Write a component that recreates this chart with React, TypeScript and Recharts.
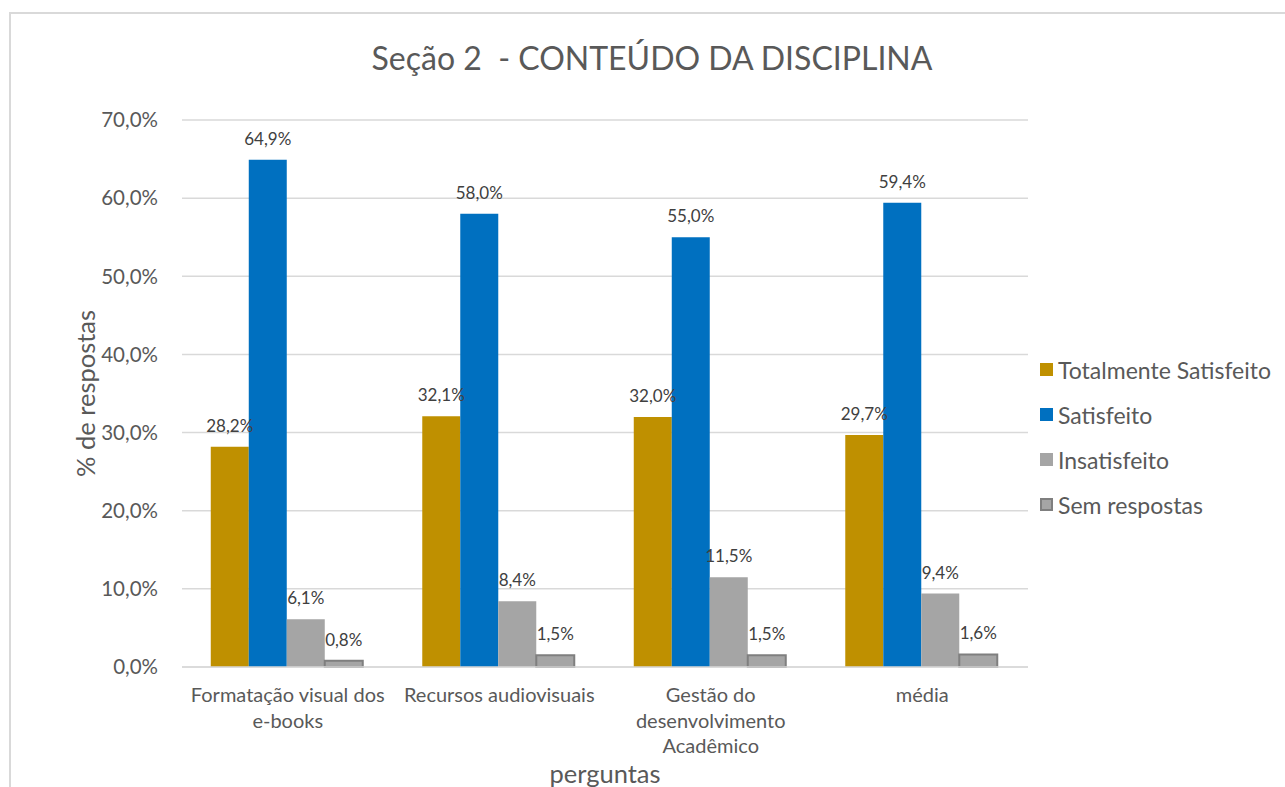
import React from 'react';
import { BarChart, Bar, XAxis, YAxis, CartesianGrid, Legend, LabelList } from 'recharts';

const categories = ['Formatação visual dos e-books', 'Recursos audiovisuais', 'Gestão do desenvolvimento Acadêmico', 'média'];
const categoryLines = [['Formatação visual dos', 'e-books'], ['Recursos audiovisuais'], ['Gestão do', 'desenvolvimento', 'Acadêmico'], ['média']];
const totalmenteSatisfeito = [28.2, 32.1, 32.0, 29.7];
const satisfeito = [64.9, 58.0, 55.0, 59.4];
const insatisfeito = [6.1, 8.4, 11.5, 9.4];
const semRespostas = [0.8, 1.5, 1.5, 1.6];
const yTicks = [0, 10, 20, 30, 40, 50, 60, 70];
const legendOrder = ['ts', 'sat', 'ins', 'sem'];

const data = categories.map((name, i) => ({
    name,
    ts: totalmenteSatisfeito[i],
    sat: satisfeito[i],
    ins: insatisfeito[i],
    sem: semRespostas[i],
}));

const FONT = 'Lato, "Open Sans", sans-serif';
const fmt = (v: number) => v.toFixed(1).replace('.', ',') + '%';

const CategoryTick = (props: any) => {
    const { x, y, index } = props;
    const lines = categoryLines[index] || [];
    return (
        <g>
            {lines.map((line, i) => (
                <text key={i} x={x} y={y + 22 + i * 25.5} textAnchor="middle" dominantBaseline="middle" fontSize={20} fill="#595959" fontFamily={FONT}>
                    {line}
                </text>
            ))}
        </g>
    );
};

const LegendBox = (props: any) => {
    const items = [...(props.payload || [])].sort(
        (a: any, b: any) => legendOrder.indexOf(a.dataKey) - legendOrder.indexOf(b.dataKey)
    );
    return (
        <div style={{ fontFamily: FONT }}>
            {items.map((entry: any, i: number) => (
                <div key={i} style={{ display: 'flex', alignItems: 'center', height: 45, fontSize: 23, color: '#595959', whiteSpace: 'nowrap' }}>
                    <span
                        style={{
                            display: 'inline-block',
                            width: 13,
                            height: 13,
                            marginRight: 5,
                            backgroundColor: entry.payload.fill,
                            boxSizing: 'border-box',
                            border: entry.dataKey === 'sem' ? '2px solid #7f7f7f' : 'none',
                        }}
                    />
                    {entry.value}
                </div>
            ))}
        </div>
    );
};

const App: React.FC = () => {
    return (
        <div style={{ position: 'fixed', left: 0, top: 0, width: 1285, height: 787, overflow: 'hidden', background: '#fff' }}>
            <div style={{ position: 'absolute', left: 9, top: 12, width: 1400, height: 900, border: '2px solid #d9d9d9' }} />
            <div style={{ position: 'absolute', left: 652, top: 38, transform: 'translateX(-50%)', whiteSpace: 'pre', fontSize: 32, color: '#595959', fontFamily: FONT }}>
                Seção 2  - CONTEÚDO DA DISCIPLINA
            </div>
            <div style={{ position: 'absolute', left: 0, top: 0 }}>
                <BarChart
                    width={1285}
                    height={787}
                    data={data}
                    margin={{ top: 120, right: 257, bottom: 0, left: 102 }}
                    barCategoryGap="13.6%"
                    barGap={0}
                >
                    <CartesianGrid vertical={false} stroke="#d9d9d9" strokeWidth={1.5} />
                    <XAxis
                        dataKey="name"
                        height={120}
                        stroke="#d9d9d9"
                        strokeWidth={1.5}
                        tickLine={false}
                        tick={<CategoryTick />}
                        interval={0}
                        label={{ value: 'perguntas', position: 'insideBottom', offset: 4, fontSize: 25.5, fill: '#595959', fontFamily: FONT }}
                    />
                    <YAxis
                        width={80}
                        domain={[0, 70]}
                        ticks={yTicks}
                        tickFormatter={fmt}
                        axisLine={false}
                        tickLine={false}
                        tickSize={0}
                        tickMargin={24}
                        tick={{ fontSize: 20.5, fill: '#595959', fontFamily: FONT }}
                        label={{ value: '% de respostas', angle: -90, position: 'center', dx: -56, fontSize: 25.5, fill: '#595959', fontFamily: FONT }}
                    />
                    <Legend
                        layout="horizontal"
                        verticalAlign="middle"
                        wrapperStyle={{ left: 1040, top: 347, width: 245 }}
                        content={<LegendBox />}
                    />
                    <Bar dataKey="ts" name="Totalmente Satisfeito" fill="#bf9000" isAnimationActive={false}>
                        <LabelList dataKey="ts" position="top" offset={15} formatter={fmt} fontSize={17} fill="#404040" fontFamily={FONT} />
                    </Bar>
                    <Bar dataKey="sat" name="Satisfeito" fill="#0070c0" isAnimationActive={false}>
                        <LabelList dataKey="sat" position="top" offset={15} formatter={fmt} fontSize={17} fill="#404040" fontFamily={FONT} />
                    </Bar>
                    <Bar dataKey="ins" name="Insatisfeito" fill="#a5a5a5" isAnimationActive={false}>
                        <LabelList dataKey="ins" position="top" offset={15} formatter={fmt} fontSize={17} fill="#404040" fontFamily={FONT} />
                    </Bar>
                    <Bar dataKey="sem" name="Sem respostas" fill="#a5a5a5" stroke="#7f7f7f" strokeWidth={2} isAnimationActive={false}>
                        <LabelList dataKey="sem" position="top" offset={15} formatter={fmt} fontSize={17} fill="#404040" fontFamily={FONT} />
                    </Bar>
                </BarChart>
            </div>
        </div>
    );
};

export default App;
